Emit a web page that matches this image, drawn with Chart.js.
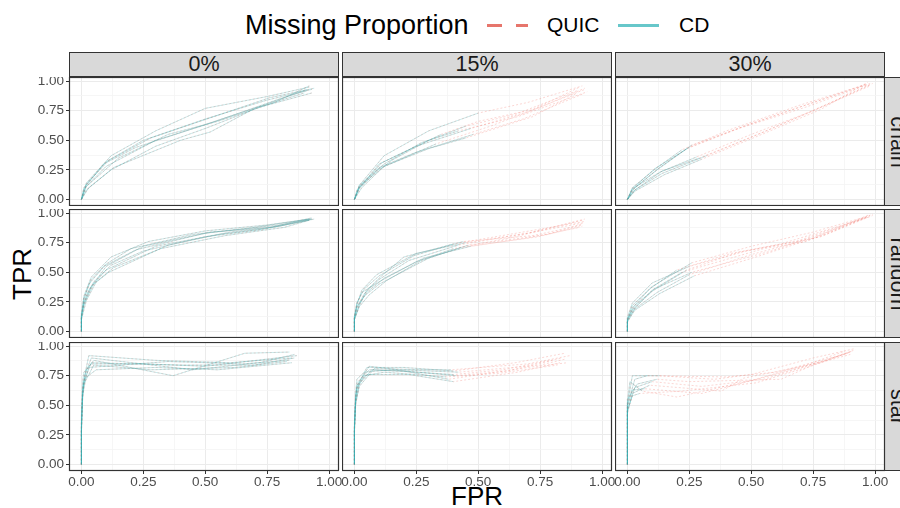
<!DOCTYPE html>
<html>
<head>
<meta charset="utf-8">
<script src="https://cdn.jsdelivr.net/npm/chart.js@4/dist/chart.umd.min.js"></script>
<style>
  body { margin:0; width:900px; height:508px; overflow:hidden; background:#fff;
         font-family:'Liberation Sans', Arial, sans-serif; position:relative; }
  .abs { position:absolute; }
  .strip { position:absolute; box-sizing:border-box; background:#D9D9D9; border:1px solid #333;
           color:#1a1a1a; font-size:21.5px; text-align:center; }
  .rstrip span { position:absolute; left:50%; top:50%; transform:translate(-50%,-50%) rotate(90deg);
                 white-space:nowrap; }
  canvas { position:absolute; }
</style>
</head>
<body>
<div class="abs" style="left:245px;top:10px;font-size:27px;line-height:30px;color:#000">Missing Proportion</div>
<div class="abs" style="left:487px;top:24px;width:41px;height:3px;background:linear-gradient(to right,rgba(229,110,100,0.95) 0 15px,transparent 15px 29px,rgba(229,110,100,0.95) 29px 41px)"></div>
<div class="abs" style="left:547px;top:12px;font-size:21px;line-height:26px">QUIC</div>
<div class="abs" style="left:618px;top:24px;width:41px;height:3px;background:rgba(95,196,199,0.95)"></div>
<div class="abs" style="left:679px;top:12px;font-size:21px;line-height:26px">CD</div>
<div class="abs" style="left:22px;top:274px;font-size:26px;transform:translate(-50%,-50%) rotate(-90deg);white-space:nowrap">TPR</div>
<div class="abs" style="left:477px;top:496px;font-size:26px;transform:translate(-50%,-50%);white-space:nowrap">FPR</div>
<div id="wrap"></div>
<script>
// facet labels
var missingLevels = ['0%', '15%', '30%'];
var graphTypes = ['chain', 'random', 'star'];

// axis ticks (both axes)
var majorVals = [0, 0.25, 0.5, 0.75, 1];
var majorLabels = ['0.00', '0.25', '0.50', '0.75', '1.00'];
var minorVals = [0.125, 0.375, 0.625, 0.875];

// ROC curves, [FPR, TPR] points; QUIC runs the whole path,
// CD follows the same path up to the index in the *Cd array
var chain0 = [
  [[0,0],[0.02,0.14],[0.12,0.37],[0.3,0.58],[0.5,0.77],[0.75,0.87],[0.92,0.95]],
  [[0,0],[0.02,0.12],[0.1,0.32],[0.25,0.5],[0.5,0.68],[0.75,0.84],[0.93,0.93]],
  [[0,0],[0.01,0.09],[0.1,0.28],[0.3,0.5],[0.5,0.63],[0.8,0.85],[0.91,0.92]],
  [[0,0],[0.03,0.1],[0.12,0.25],[0.3,0.45],[0.5,0.6],[0.72,0.78],[0.93,0.9]],
  [[0,0],[0.02,0.11],[0.15,0.35],[0.35,0.55],[0.55,0.66],[0.78,0.82],[0.92,0.96]],
  [[0,0],[0.02,0.08],[0.13,0.27],[0.4,0.5],[0.52,0.57],[0.7,0.77],[0.9,0.9]],
  [[0,0],[0.02,0.13],[0.11,0.33],[0.28,0.52],[0.45,0.64],[0.76,0.86],[0.94,0.94]],
  [[0,0],[0.01,0.1],[0.09,0.3],[0.22,0.44],[0.48,0.62],[0.74,0.8],[0.91,0.93]]
];
var chain0Cd = [6, 6, 6, 6, 6, 6, 6, 6];
var chain15 = [
  [[0,0],[0.02,0.12],[0.12,0.37],[0.3,0.58],[0.5,0.73],[0.7,0.82],[0.92,0.96]],
  [[0,0],[0.02,0.1],[0.1,0.3],[0.25,0.45],[0.47,0.6],[0.7,0.74],[0.93,0.93]],
  [[0,0],[0.03,0.1],[0.12,0.28],[0.3,0.43],[0.45,0.52],[0.72,0.7],[0.9,0.9]],
  [[0,0],[0.02,0.09],[0.1,0.26],[0.33,0.47],[0.55,0.62],[0.75,0.78],[0.93,0.94]],
  [[0,0],[0.02,0.11],[0.15,0.33],[0.3,0.5],[0.45,0.62],[0.65,0.72],[0.9,0.92]],
  [[0,0],[0.01,0.08],[0.1,0.27],[0.25,0.4],[0.48,0.55],[0.68,0.68],[0.92,0.89]],
  [[0,0],[0.02,0.1],[0.11,0.31],[0.35,0.55],[0.5,0.66],[0.72,0.76],[0.91,0.95]],
  [[0,0],[0.02,0.12],[0.12,0.3],[0.27,0.48],[0.42,0.58],[0.66,0.7],[0.94,0.91]]
];
var chain15Cd = [4, 4, 4, 3, 4, 4, 3, 4];
var chain30 = [
  [[0,0],[0.03,0.1],[0.13,0.27],[0.26,0.46],[0.5,0.64],[0.75,0.82],[0.98,0.98]],
  [[0,0],[0.02,0.08],[0.12,0.25],[0.24,0.43],[0.45,0.6],[0.72,0.78],[0.97,0.97]],
  [[0,0],[0.02,0.09],[0.13,0.23],[0.28,0.36],[0.5,0.55],[0.75,0.75],[0.98,0.96]],
  [[0,0],[0.03,0.07],[0.15,0.21],[0.3,0.34],[0.52,0.53],[0.78,0.76],[0.97,0.99]],
  [[0,0],[0.02,0.1],[0.12,0.27],[0.22,0.42],[0.4,0.58],[0.7,0.8],[0.96,0.97]],
  [[0,0],[0.03,0.08],[0.14,0.22],[0.32,0.37],[0.55,0.57],[0.8,0.8],[0.99,0.98]],
  [[0,0],[0.02,0.09],[0.11,0.26],[0.25,0.44],[0.47,0.62],[0.78,0.84],[0.97,0.98]],
  [[0,0],[0.03,0.08],[0.14,0.24],[0.29,0.35],[0.48,0.51],[0.73,0.73],[0.98,0.97]]
];
var chain30Cd = [3, 3, 3, 3, 3, 3, 3, 3];
var random0 = [
  [[0,0],[0,0.15],[0.01,0.3],[0.04,0.46],[0.12,0.63],[0.27,0.76],[0.5,0.85],[0.75,0.9],[0.92,0.95]],
  [[0,0],[0,0.12],[0.01,0.25],[0.03,0.35],[0.1,0.55],[0.25,0.72],[0.5,0.83],[0.8,0.9],[0.93,0.95]],
  [[0,0],[0,0.1],[0.01,0.22],[0.04,0.38],[0.1,0.52],[0.3,0.72],[0.55,0.82],[0.75,0.87],[0.92,0.94]],
  [[0,0],[0,0.14],[0.02,0.3],[0.05,0.42],[0.12,0.56],[0.25,0.68],[0.5,0.8],[0.72,0.86],[0.93,0.96]],
  [[0,0],[0,0.12],[0.01,0.27],[0.03,0.4],[0.1,0.57],[0.2,0.7],[0.45,0.82],[0.7,0.88],[0.92,0.95]],
  [[0,0],[0,0.11],[0.01,0.24],[0.05,0.4],[0.11,0.5],[0.35,0.73],[0.6,0.84],[0.8,0.89],[0.94,0.95]],
  [[0,0],[0,0.13],[0.01,0.28],[0.04,0.44],[0.09,0.55],[0.22,0.69],[0.52,0.84],[0.77,0.88],[0.93,0.95]],
  [[0,0],[0,0.1],[0.02,0.26],[0.06,0.42],[0.13,0.54],[0.32,0.7],[0.58,0.81],[0.82,0.88],[0.92,0.94]]
];
var random0Cd = [8, 8, 8, 8, 8, 8, 8, 8];
var random15 = [
  [[0,0],[0,0.12],[0.01,0.22],[0.03,0.35],[0.09,0.48],[0.25,0.66],[0.45,0.75],[0.7,0.83],[0.92,0.94]],
  [[0,0],[0,0.1],[0.01,0.2],[0.04,0.32],[0.1,0.44],[0.22,0.6],[0.42,0.73],[0.75,0.85],[0.93,0.92]],
  [[0,0],[0,0.11],[0.02,0.23],[0.05,0.33],[0.12,0.45],[0.28,0.62],[0.47,0.72],[0.7,0.79],[0.91,0.88]],
  [[0,0],[0,0.13],[0.01,0.24],[0.03,0.33],[0.1,0.42],[0.25,0.59],[0.4,0.7],[0.65,0.8],[0.93,0.95]],
  [[0,0],[0,0.1],[0.02,0.22],[0.05,0.35],[0.11,0.47],[0.2,0.63],[0.44,0.76],[0.72,0.81],[0.92,0.9]],
  [[0,0],[0,0.12],[0.01,0.21],[0.04,0.3],[0.1,0.4],[0.3,0.62],[0.46,0.73],[0.78,0.82],[0.92,0.91]],
  [[0,0],[0,0.11],[0.01,0.24],[0.04,0.36],[0.1,0.47],[0.24,0.64],[0.4,0.74],[0.68,0.84],[0.93,0.93]],
  [[0,0],[0,0.1],[0.02,0.21],[0.06,0.31],[0.13,0.43],[0.27,0.6],[0.43,0.71],[0.74,0.8],[0.92,0.89]]
];
var random15Cd = [6, 6, 6, 6, 6, 6, 6, 6];
var random30 = [
  [[0,0],[0,0.1],[0.02,0.22],[0.1,0.38],[0.26,0.58],[0.5,0.72],[0.75,0.84],[0.98,0.98]],
  [[0,0],[0,0.08],[0.03,0.2],[0.1,0.34],[0.24,0.52],[0.45,0.67],[0.68,0.76],[0.97,0.97]],
  [[0,0],[0,0.1],[0.03,0.19],[0.12,0.33],[0.25,0.48],[0.5,0.65],[0.75,0.79],[0.98,0.99]],
  [[0,0],[0,0.09],[0.02,0.18],[0.1,0.35],[0.22,0.5],[0.55,0.7],[0.72,0.76],[0.96,0.96]],
  [[0,0],[0,0.12],[0.02,0.24],[0.1,0.41],[0.25,0.55],[0.48,0.68],[0.78,0.8],[0.99,0.98]],
  [[0,0],[0,0.08],[0.03,0.18],[0.13,0.32],[0.27,0.47],[0.52,0.63],[0.8,0.82],[0.97,0.97]],
  [[0,0],[0,0.09],[0.02,0.2],[0.09,0.36],[0.2,0.52],[0.42,0.66],[0.62,0.74],[0.98,0.97]],
  [[0,0],[0,0.11],[0.03,0.22],[0.11,0.36],[0.26,0.5],[0.58,0.68],[0.82,0.85],[0.99,0.99]]
];
var random30Cd = [4, 4, 4, 4, 4, 4, 4, 4];
var star0 = [
  [[0,0],[0,0.3],[0.005,0.6],[0.01,0.72],[0.03,0.92],[0.3,0.88],[0.6,0.86],[0.85,0.9]],
  [[0,0],[0,0.35],[0.005,0.65],[0.02,0.8],[0.05,0.88],[0.37,0.75],[0.66,0.94],[0.84,0.95]],
  [[0,0],[0,0.25],[0.005,0.55],[0.01,0.7],[0.04,0.86],[0.4,0.84],[0.7,0.84],[0.86,0.9]],
  [[0,0],[0,0.3],[0.005,0.6],[0.015,0.73],[0.06,0.8],[0.3,0.82],[0.55,0.8],[0.85,0.86]],
  [[0,0],[0,0.4],[0.005,0.7],[0.01,0.78],[0.04,0.85],[0.25,0.85],[0.5,0.83],[0.87,0.92]],
  [[0,0],[0,0.28],[0.005,0.58],[0.02,0.75],[0.03,0.82],[0.35,0.87],[0.65,0.85],[0.84,0.88]],
  [[0,0],[0,0.33],[0.005,0.62],[0.015,0.76],[0.04,0.9],[0.45,0.8],[0.72,0.86],[0.86,0.93]],
  [[0,0],[0,0.27],[0.005,0.57],[0.01,0.68],[0.05,0.84],[0.28,0.8],[0.62,0.82],[0.83,0.87]]
];
var star0Cd = [7, 7, 7, 7, 7, 7, 7, 7];
var star15 = [
  [[0,0],[0,0.3],[0.005,0.55],[0.01,0.65],[0.05,0.82],[0.2,0.82],[0.4,0.79],[0.65,0.86],[0.85,0.94]],
  [[0,0],[0,0.25],[0.005,0.5],[0.02,0.68],[0.07,0.8],[0.25,0.78],[0.4,0.76],[0.6,0.8],[0.84,0.9]],
  [[0,0],[0,0.3],[0.005,0.58],[0.015,0.7],[0.06,0.8],[0.2,0.79],[0.38,0.72],[0.7,0.82],[0.86,0.86]],
  [[0,0],[0,0.35],[0.005,0.6],[0.01,0.72],[0.04,0.78],[0.15,0.8],[0.41,0.75],[0.62,0.79],[0.8,0.88]],
  [[0,0],[0,0.28],[0.005,0.52],[0.02,0.66],[0.08,0.81],[0.3,0.8],[0.39,0.8],[0.7,0.85],[0.87,0.92]],
  [[0,0],[0,0.32],[0.005,0.56],[0.01,0.67],[0.05,0.76],[0.22,0.76],[0.4,0.7],[0.66,0.78],[0.83,0.86]],
  [[0,0],[0,0.3],[0.005,0.54],[0.02,0.7],[0.06,0.83],[0.18,0.8],[0.42,0.78],[0.75,0.84],[0.85,0.89]],
  [[0,0],[0,0.27],[0.005,0.53],[0.01,0.64],[0.04,0.75],[0.12,0.78],[0.37,0.74],[0.58,0.77],[0.82,0.84]]
];
var star15Cd = [6, 6, 6, 6, 6, 6, 6, 6];
var star30 = [
  [[0,0],[0,0.3],[0,0.5],[0.02,0.75],[0.13,0.75],[0.35,0.72],[0.5,0.76],[0.75,0.9],[0.92,0.98]],
  [[0,0],[0,0.25],[0,0.45],[0.03,0.65],[0.1,0.7],[0.3,0.66],[0.55,0.72],[0.8,0.88],[0.9,0.95]],
  [[0,0],[0,0.28],[0,0.52],[0.01,0.7],[0.06,0.62],[0.2,0.57],[0.5,0.71],[0.72,0.84],[0.88,0.96]],
  [[0,0],[0,0.22],[0,0.43],[0.02,0.6],[0.09,0.67],[0.38,0.62],[0.47,0.73],[0.78,0.86],[0.92,0.97]],
  [[0,0],[0,0.3],[0,0.55],[0.04,0.68],[0.12,0.72],[0.25,0.7],[0.62,0.72],[0.76,0.85],[0.9,0.93]],
  [[0,0],[0,0.26],[0,0.48],[0.02,0.63],[0.07,0.64],[0.3,0.6],[0.45,0.68],[0.7,0.82],[0.89,0.94]],
  [[0,0],[0,0.27],[0,0.5],[0.03,0.72],[0.08,0.75],[0.4,0.74],[0.6,0.78],[0.82,0.9],[0.91,0.96]],
  [[0,0],[0,0.24],[0,0.46],[0.02,0.58],[0.05,0.6],[0.22,0.62],[0.52,0.69],[0.74,0.83],[0.9,0.95]]
];
var star30Cd = [4, 4, 4, 4, 4, 4, 4, 4];

var panels = [
  [[chain0, chain0Cd], [chain15, chain15Cd], [chain30, chain30Cd]],
  [[random0, random0Cd], [random15, random15Cd], [random30, random30Cd]],
  [[star0, star0Cd], [star15, star15Cd], [star30, star30Cd]]
];

// layout
var colLeft = [69, 342, 615], rowTop = [77, 209, 342];
var panelW = 270, panelH = 129, yAxisW = 45, xAxisH = 22, padR = 10;
var quicColor = 'rgba(240,120,110,0.5)', cdColor = 'rgba(40,175,180,0.42)';

var wrap = document.getElementById('wrap');

// strips
missingLevels.forEach(function (m, c) {
  var d = document.createElement('div');
  d.className = 'strip';
  d.style.cssText = 'left:' + colLeft[c] + 'px;top:52px;width:' + panelW + 'px;height:25px;line-height:23px';
  d.textContent = m;
  wrap.appendChild(d);
});
graphTypes.forEach(function (g, r) {
  var d = document.createElement('div');
  d.className = 'strip rstrip';
  d.style.cssText = 'left:884px;top:' + rowTop[r] + 'px;width:26px;height:' + panelH + 'px';
  var s = document.createElement('span');
  s.textContent = g;
  d.appendChild(s);
  wrap.appendChild(d);
});

var panelBorder = {
  id: 'panelBorder',
  afterDatasetsDraw: function (chart) {
    var a = chart.chartArea, ctx = chart.ctx;
    ctx.save();
    ctx.strokeStyle = '#333333';
    ctx.lineWidth = 1.2;
    ctx.strokeRect(a.left + 0.5, a.top + 0.5, a.right - a.left - 1, a.bottom - a.top - 1);
    ctx.restore();
  }
};

function setTicks(scale) {
  scale.ticks = majorVals.concat(minorVals).sort(function (a, b) { return a - b; })
    .map(function (v) { return { value: v }; });
}
function tickLabel(v) {
  var i = majorVals.indexOf(v);
  return i >= 0 ? majorLabels[i] : '';
}
function gridColor(ctx) {
  return majorVals.indexOf(ctx.tick.value) >= 0 ? '#EBEBEB' : '#F4F4F4';
}
function gridWidth(ctx) {
  return majorVals.indexOf(ctx.tick.value) >= 0 ? 1 : 0.8;
}
function tickColor(ctx) {
  return majorVals.indexOf(ctx.tick.value) >= 0 ? '#333333' : 'rgba(0,0,0,0)';
}

// index 0 is drawn on top in Chart.js, so CD goes first
function makeDatasets(curves, cdEnd) {
  var ds = [];
  curves.forEach(function (cv, i) {
    ds.push({
      data: cv.slice(0, cdEnd[i] + 1).map(function (p) { return { x: p[0], y: p[1] }; }),
      borderColor: cdColor, borderWidth: 0.6
    });
  });
  curves.forEach(function (cv) {
    ds.push({
      data: cv.map(function (p) { return { x: p[0], y: p[1] }; }),
      borderColor: quicColor, borderDash: [2, 2], borderWidth: 0.6
    });
  });
  return ds;
}

for (var r = 0; r < 3; r++) {
  for (var c = 0; c < 3; c++) {
    var left = colLeft[c] - (c === 0 ? yAxisW : 0);
    var w = panelW + (c === 0 ? yAxisW : 0) + (r === 2 ? padR : 0);
    var h = panelH + (r === 2 ? xAxisH : 0);
    var cv = document.createElement('canvas');
    cv.width = w; cv.height = h;
    cv.style.left = left + 'px'; cv.style.top = rowTop[r] + 'px';
    cv.style.width = w + 'px'; cv.style.height = h + 'px';
    wrap.appendChild(cv);
    (function (r, c) {
      new Chart(cv.getContext('2d'), {
        type: 'scatter',
        data: { datasets: makeDatasets(panels[r][c][0], panels[r][c][1]) },
        options: {
          responsive: false, animation: false, devicePixelRatio: 1,
          showLine: true,
          layout: { padding: { right: r === 2 ? padR : 0, left: 0, top: 0, bottom: 0 } },
          elements: { point: { radius: 0, hoverRadius: 0 }, line: { tension: 0 } },
          plugins: { legend: { display: false }, tooltip: { enabled: false } },
          scales: {
            x: {
              type: 'linear', min: -0.05, max: 1.04,
              afterBuildTicks: setTicks,
              afterFit: function (s) { s.height = r === 2 ? xAxisH : 0; s.paddingLeft = 0; s.paddingRight = 0; },
              border: { display: false },
              grid: { color: gridColor, lineWidth: gridWidth, drawTicks: r === 2, tickLength: 3, tickColor: tickColor },
              ticks: { display: r === 2, callback: tickLabel, autoSkip: false, maxRotation: 0,
                       color: '#4D4D4D', font: { size: 13.5, family: "'Liberation Sans', Arial, sans-serif" }, padding: 0 }
            },
            y: {
              type: 'linear', min: -0.055, max: 1.035,
              afterBuildTicks: setTicks,
              afterFit: function (s) { s.width = c === 0 ? yAxisW : 0; s.paddingTop = 0; s.paddingBottom = 0; },
              border: { display: false },
              grid: { color: gridColor, lineWidth: gridWidth, drawTicks: c === 0, tickLength: 3, tickColor: tickColor },
              ticks: { display: c === 0, callback: tickLabel, autoSkip: false,
                       color: '#4D4D4D', font: { size: 13.5, family: "'Liberation Sans', Arial, sans-serif" }, padding: 2 }
            }
          }
        },
        plugins: [panelBorder]
      });
    })(r, c);
  }
}
</script>
</body>
</html>
